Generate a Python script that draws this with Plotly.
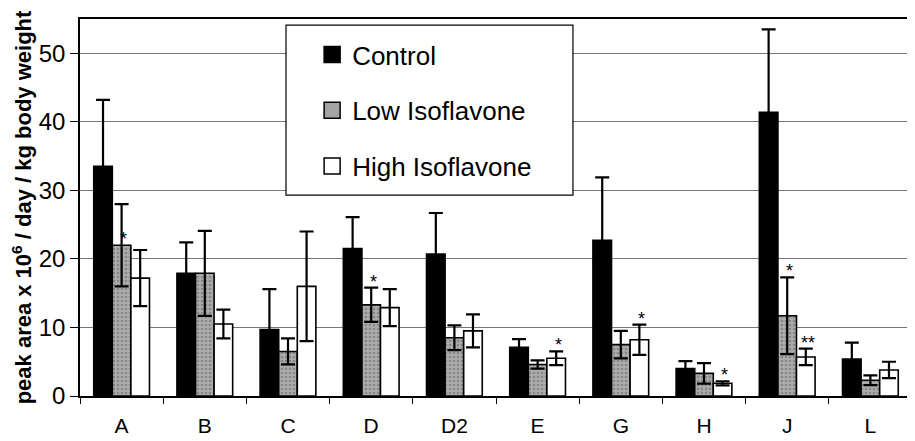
import plotly.graph_objects as go

categories = ["A", "B", "C", "D", "D2", "E", "G", "H", "J", "L"]
control = [33.5, 17.9, 9.7, 21.5, 20.7, 7.1, 22.7, 4.0, 41.4, 5.4]
control_err = [9.7, 4.5, 5.9, 4.6, 6.0, 1.2, 9.2, 1.1, 12.1, 2.4]
low_iso = [22.0, 17.9, 6.5, 13.3, 8.5, 4.6, 7.5, 3.3, 11.7, 2.3]
low_err = [6.0, 6.2, 1.9, 2.5, 1.8, 0.6, 2.0, 1.5, 5.6, 0.7]
high_iso = [17.2, 10.5, 16.0, 12.9, 9.5, 5.5, 8.2, 1.85, 5.7, 3.8]
high_err = [4.1, 2.1, 8.0, 2.7, 2.4, 1.0, 2.2, 0.3, 1.2, 1.2]
series_names = ["Control", "Low Isoflavone", "High Isoflavone"]
y_ticks = [0, 10, 20, 30, 40, 50]

# significance marks: (category, series index, text)
marks = [("A", 1, "*"), ("D", 1, "*"), ("E", 2, "*"), ("G", 2, "*"),
         ("H", 2, "*"), ("J", 1, "*"), ("J", 2, "**")]

font = "Liberation Sans, Arial, sans-serif"
fills = ["black", "#a3a3a3", "white"]

fig = go.Figure()
err_style = dict(type="data", visible=True, color="black", thickness=2.2, width=7)
series_vals = [control, low_iso, high_iso]
series_errs = [control_err, low_err, high_err]
for k in range(3):
    marker = dict(color=fills[k], line=dict(color="black", width=1.6))
    if k == 1:
        marker["pattern"] = dict(shape=".", fgcolor="#666666", bgcolor="#ababab",
                                 size=4, solidity=0.35)
    fig.add_bar(x=categories, y=series_vals[k], name=series_names[k],
                showlegend=False, marker=marker,
                error_y=dict(array=series_errs[k], **err_style))

# legend entries with larger square swatches
for k in range(3):
    fig.add_scatter(x=[None], y=[None], mode="markers", name=series_names[k],
                    legendgroup=str(k),
                    marker=dict(symbol="square", size=18, color=fills[k],
                                line=dict(color="black", width=1.5)))

bar_px = 18.6
for cat, si, txt in marks:
    i = categories.index(cat)
    top = series_vals[si][i] + series_errs[si][i]
    if cat == "A":
        top = series_vals[si][i]
    fig.add_annotation(x=cat, y=top, text=txt, showarrow=False, yanchor="bottom",
                       xshift=(si - 1) * bar_px + 2, yshift=-6,
                       font=dict(family=font, size=18, color="black"))

# legend box
fig.add_shape(type="rect", xref="paper", yref="paper", x0=0.2476, x1=0.5925,
              y0=0.533, y1=0.984, fillcolor="white", line=dict(color="black", width=1.2),
              layer="above")

# page body has an 8px margin, so the figure is 8px smaller on each axis
fig.update_layout(
    width=907, height=433,
    margin=dict(l=72, r=3, t=11, b=45, autoexpand=False),
    paper_bgcolor="white", plot_bgcolor="white",
    barmode="group", bargap=0.33, bargroupgap=0,
    font=dict(family=font, color="black"),
    showlegend=True,
    legend=dict(x=0.279, y=0.968, xanchor="left", yanchor="top",
                bgcolor="rgba(0,0,0,0)", borderwidth=0,
                font=dict(family=font, size=26, color="black"),
                tracegroupgap=19, traceorder="grouped", itemsizing="trace"),
    xaxis=dict(showline=True, linecolor="black", linewidth=1.5, mirror=True,
               automargin=False,
               ticks="outside", tickson="boundaries", ticklen=6, tickcolor="black",
               ticklabelstandoff=10,
               tickfont=dict(family=font, size=21, color="black")),
    yaxis=dict(range=[0, 55], tickvals=y_ticks, automargin=False,
               showline=True, linecolor="black", linewidth=1.5, mirror=True,
               ticks="outside", ticklen=8, tickcolor="black",
               showgrid=True, gridcolor="#777777", gridwidth=1.2,
               tickfont=dict(family=font, size=24, color="black"),
               title=dict(text="<b>peak area x 10<sup>6</sup> / day / kg body weight</b>",
                          font=dict(family=font, size=22, color="black"), standoff=3)),
)

fig.write_html("out.html")
